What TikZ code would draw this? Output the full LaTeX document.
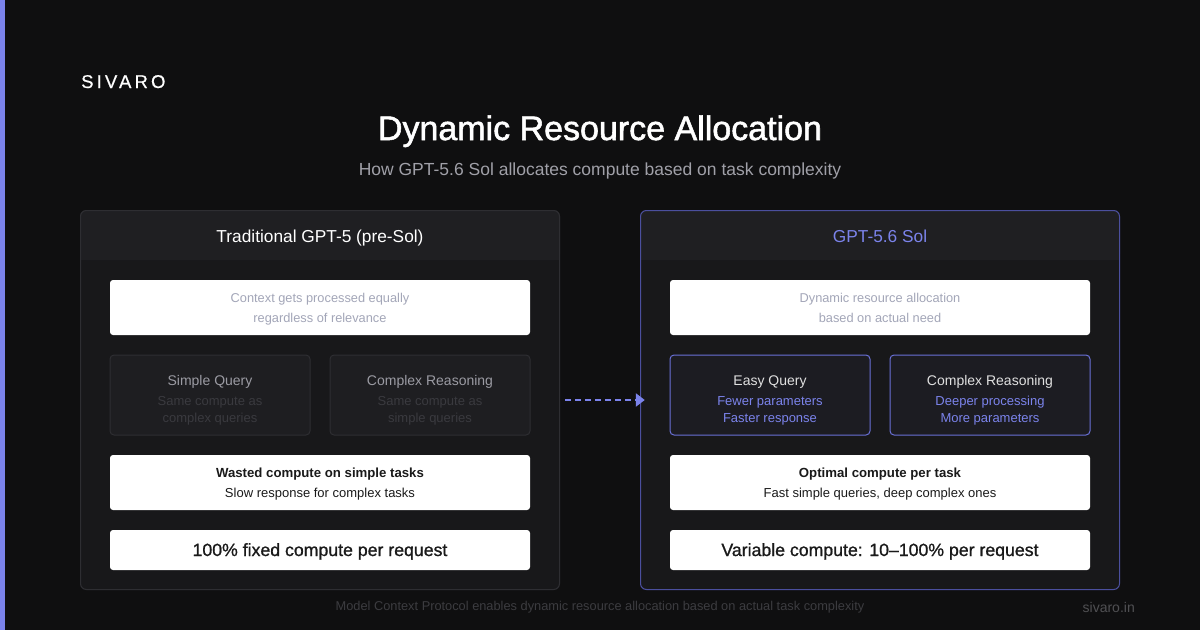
\documentclass[tikz,border=0pt]{standalone}
\usepackage{fontspec}
\setmainfont{Liberation Sans}
\usetikzlibrary{arrows.meta}
\definecolor{bg}{HTML}{0F0F10}
\definecolor{accent}{HTML}{7B83EB}
\definecolor{phead}{HTML}{1F1F22}
\definecolor{pbody}{HTML}{18181A}
\definecolor{lborder}{HTML}{2E2E32}
\definecolor{rborder}{HTML}{4B4F9E}
\definecolor{mfill}{HTML}{1E1E21}
\definecolor{mborder}{HTML}{2E2E32}
\definecolor{mtitle}{HTML}{9B9BA3}
\definecolor{msub}{HTML}{3A3A3F}
\definecolor{wgray}{HTML}{A3A6B8}
\definecolor{dtext}{HTML}{1A1A1A}
\definecolor{subt}{HTML}{A0A0A8}
\definecolor{foot}{HTML}{3C3C40}
\definecolor{rfill}{HTML}{1C1C22}
\definecolor{rbox}{HTML}{6970D6}
\tikzset{
  wbox/.style={fill=white, rounded corners=3, minimum width=420, minimum height=#1, inner sep=0, draw=none},
  mbox/.style={fill=mfill, draw=mborder, rounded corners=4, minimum width=200, minimum height=80, inner sep=0, line width=1},
  rqbox/.style={fill=rfill, draw=rbox, rounded corners=4, minimum width=200, minimum height=80, inner sep=0, line width=1},
  txt/.style={inner sep=0, anchor=base, align=center},
}
\begin{document}
\begin{tikzpicture}[x=1pt,y=-1pt]
\useasboundingbox (0,0) rectangle (1200,630);
\fill[bg] (0,0) rectangle (1200,630);
\fill[accent] (0,0) rectangle (5,630);

\node[txt, anchor=base west] (brand) at (81,88) {\fontsize{18.5}{22}\selectfont\addfontfeature{LetterSpace=17,FakeBold=0.6}\color{white}SIVARO};
\node[txt] (title) at (600,140) {\fontsize{34}{40}\selectfont\addfontfeature{FakeBold=1.6}\color{white}Dynamic Resource Allocation};
\node[txt] (subtitle) at (600,175) {\fontsize{17.5}{20}\selectfont\color{subt}How GPT-5.6 Sol allocates compute based on task complexity};

% left panel
\node[minimum width=480, minimum height=380, inner sep=0] (lp) at (320,400) {};
\fill[pbody, rounded corners=6] (80,210) rectangle (560,590);
\fill[phead, rounded corners=6] (80,260) -- (80,210) -- (560,210) -- (560,260) -- cycle;
\fill[phead] (80,240) rectangle (560,260);
\draw[lborder, line width=1, rounded corners=6] (80.5,210.5) rectangle (559.5,589.5);
\node[txt] (lh) at (320,242) {\fontsize{17.3}{20}\selectfont\color{white}Traditional GPT-5 (pre-Sol)};

% right panel
\node[minimum width=480, minimum height=380, inner sep=0] (rp) at (880,400) {};
\fill[pbody, rounded corners=6] (640,210) rectangle (1120,590);
\fill[phead, rounded corners=6] (640,260) -- (640,210) -- (1120,210) -- (1120,260) -- cycle;
\fill[phead] (640,240) rectangle (1120,260);
\draw[rborder, line width=1, rounded corners=6] (640.5,210.5) rectangle (1119.5,589.5);
\node[txt] (rh) at (880,242) {\fontsize{17.3}{20}\selectfont\color{accent}GPT-5.6 Sol};

% left content
\node[wbox=55] (l1) at (320,307.5) {};
\node[txt] at (320,302) {\fontsize{12.8}{16}\selectfont\color{wgray}Context gets processed equally};
\node[txt] at (320,322) {\fontsize{12.8}{16}\selectfont\color{wgray}regardless of relevance};

\node[mbox] (lq1) at (210,395) {};
\node[mbox] (lq2) at (430,395) {};
\node[txt] at (210,385) {\fontsize{14}{16}\selectfont\color{mtitle}Simple Query};
\node[txt] at (210,405) {\fontsize{13}{16}\selectfont\color{msub}Same compute as};
\node[txt] at (210,422) {\fontsize{13}{16}\selectfont\color{msub}complex queries};
\node[txt] at (430,385) {\fontsize{14}{16}\selectfont\color{mtitle}Complex Reasoning};
\node[txt] at (430,405) {\fontsize{13}{16}\selectfont\color{msub}Same compute as};
\node[txt] at (430,422) {\fontsize{13}{16}\selectfont\color{msub}simple queries};

\node[wbox=55] (l2) at (320,482.5) {};
\node[txt] at (320,477) {\fontsize{13.2}{16}\selectfont\bfseries\color{dtext}Wasted compute on simple tasks};
\node[txt] at (320,497) {\fontsize{13}{16}\selectfont\color{dtext}Slow response for complex tasks};

\node[wbox=40] (l3) at (320,550) {};
\node[txt] at (320,556) {\fontsize{17.7}{20}\selectfont\addfontfeature{FakeBold=1}\color{dtext}100\% fixed compute per request};

% right content
\node[wbox=55] (r1) at (880,307.5) {};
\node[txt] at (880,302) {\fontsize{12.8}{16}\selectfont\color{wgray}Dynamic resource allocation};
\node[txt] at (880,322) {\fontsize{12.8}{16}\selectfont\color{wgray}based on actual need};

\node[rqbox] (rq1) at (770,395) {};
\node[rqbox] (rq2) at (990,395) {};
\node[txt] at (770,385) {\fontsize{14}{16}\selectfont\color{white!88!black}Easy Query};
\node[txt] at (770,405) {\fontsize{13}{16}\selectfont\color{accent}Fewer parameters};
\node[txt] at (770,422) {\fontsize{13}{16}\selectfont\color{accent}Faster response};
\node[txt] at (990,385) {\fontsize{14}{16}\selectfont\color{white!88!black}Complex Reasoning};
\node[txt] at (990,405) {\fontsize{13}{16}\selectfont\color{accent}Deeper processing};
\node[txt] at (990,422) {\fontsize{13}{16}\selectfont\color{accent}More parameters};

\node[wbox=55] (r2) at (880,482.5) {};
\node[txt] at (880,477) {\fontsize{13.2}{16}\selectfont\bfseries\color{dtext}Optimal compute per task};
\node[txt] at (880,497) {\fontsize{13}{16}\selectfont\color{dtext}Fast simple queries, deep complex ones};

\node[wbox=40] (r3) at (880,550) {};
\node[txt] at (880,556) {\fontsize{17.7}{20}\selectfont\addfontfeature{FakeBold=1}\color{dtext}Variable compute: 10–100\% per request};

% arrow
\draw[accent, line width=2.5, dash pattern=on 6 off 4, -{Triangle[length=9, width=13]}]
  ([xshift=5]lp.east) -- ([xshift=5]rp.west);

% footer
\node[txt] (footer) at (600,610) {\fontsize{12.8}{14}\selectfont\color{foot}Model Context Protocol enables dynamic resource allocation based on actual task complexity};
\node[txt, anchor=base east] (site) at (1135,612) {\fontsize{14}{16}\selectfont\color{foot!90!white}sivaro.in};
\end{tikzpicture}
\end{document}
